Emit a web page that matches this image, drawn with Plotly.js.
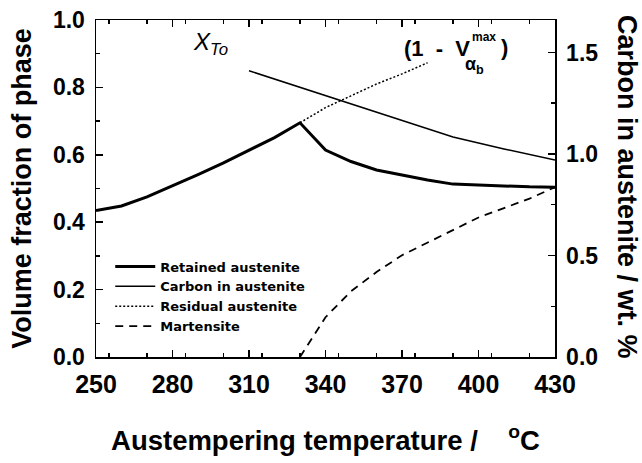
<!DOCTYPE html>
<html>
<head>
<meta charset="utf-8">
<script src="https://cdn.plot.ly/plotly-3.0.1.min.js"></script>
<style>html,body{margin:0;padding:0;background:#fff;}#chart{width:642px;height:463px;}</style>
</head>
<body>
<div id="chart"></div>
<script>
// Retained austenite (left axis)
var tempRetained = [250,260,270,280,290,300,310,320,330,340,350,360,370,380,390,400,410,420,430];
var retained = [0.435,0.448,0.475,0.507,0.541,0.576,0.613,0.651,0.695,0.614,0.58,0.555,0.54,0.525,0.513,0.51,0.507,0.505,0.504];
// Carbon in austenite (right axis, wt. %)
var tempCarbon = [310,330,350,370,390,410,430];
var carbon = [1.41,1.328,1.247,1.165,1.084,1.025,0.97];
// Residual austenite (1 - V max alpha_b)
var tempResidual = [330,340,350,360,370,380];
var residual = [0.695,0.74,0.775,0.81,0.84,0.873];
// Martensite
var tempMartensite = [330,340,350,360,370,380,390,400,410,420,430];
var martensite = [0,0.118,0.195,0.252,0.302,0.339,0.376,0.414,0.442,0.47,0.504];

var FONT = 'Liberation Sans, Arial, sans-serif';

var traces = [
  {x: tempRetained, y: retained, name: 'Retained austenite', mode: 'lines',
   line: {color: '#000', width: 3}},
  {x: tempCarbon, y: carbon, name: 'Carbon in austenite', mode: 'lines', yaxis: 'y2',
   line: {color: '#000', width: 1.5}},
  {x: tempResidual, y: residual, name: 'Residual austenite', mode: 'lines',
   line: {color: '#000', width: 1.5, dash: '2px,2px'}},
  {x: tempMartensite, y: martensite, name: 'Martensite', mode: 'lines',
   line: {color: '#000', width: 1.8, dash: '8px,6px'}}
];

var yTickFont = {family: FONT, size: 23, color: '#000', weight: 'bold'};
var xTickFont = {family: FONT, size: 25, color: '#000', weight: 'bold'};
var titleFont = {family: FONT, size: 27, color: '#000', weight: 'bold'};

var layout = {
  width: 642, height: 463,
  margin: {l: 96, r: 87, t: 20, b: 106, pad: 0},
  paper_bgcolor: '#fff', plot_bgcolor: '#fff',
  showlegend: true,
  legend: {
    x: 0.031, y: 0.313, xanchor: 'left', yanchor: 'top',
    bgcolor: 'rgba(0,0,0,0)', borderwidth: 0,
    font: {family: 'DejaVu Sans, sans-serif', size: 13, color: '#000', weight: 'bold'},
    itemwidth: 40, tracegroupgap: 0
  },
  xaxis: {
    range: [250, 430], tick0: 250, dtick: 30,
    ticks: 'inside', ticklen: 7, tickwidth: 1.5, tickcolor: '#000',
    minor: {dtick: 15, ticks: 'inside', ticklen: 4, tickwidth: 1.5, tickcolor: '#000'},
    showline: true, linecolor: '#000', linewidth: 1.5, mirror: 'ticks',
    showgrid: false, zeroline: false,
    tickfont: xTickFont, ticklabelstandoff: 4,
    title: {text: 'Austempering temperature /\u00a0\u00a0\u00a0\u00a0<sup>o</sup>C', font: {family: FONT, size: 27.5, color: '#000', weight: 'bold'}, standoff: 34}
  },
  yaxis: {
    range: [0, 1.0], tick0: 0, dtick: 0.2, tickformat: '.1f',
    ticks: 'inside', ticklen: 7, tickwidth: 1.5, tickcolor: '#000',
    minor: {dtick: 0.1, ticks: 'inside', ticklen: 4, tickwidth: 1.5, tickcolor: '#000'},
    showline: true, linecolor: '#000', linewidth: 1.5,
    showgrid: false, zeroline: false,
    tickfont: yTickFont, ticklabelstandoff: 5,
    title: {text: 'Volume fraction of phase', font: titleFont, standoff: 13}
  },
  yaxis2: {
    overlaying: 'y', side: 'right',
    range: [0, 1.66], tick0: 0, dtick: 0.5, tickformat: '.1f',
    ticks: 'inside', ticklen: 7, tickwidth: 1.5, tickcolor: '#000',
    minor: {dtick: 0.25, ticks: 'inside', ticklen: 4, tickwidth: 1.5, tickcolor: '#000'},
    showline: true, linecolor: '#000', linewidth: 1.5,
    showgrid: false, zeroline: false,
    tickfont: yTickFont, ticklabelstandoff: 5
  },
  annotations: [
    {xref: 'paper', yref: 'paper', x: 1.157, y: 0.504, xanchor: 'center', yanchor: 'middle',
     textangle: 90, text: 'Carbon in austenite / wt. %', showarrow: false,
     font: titleFont},
    {xref: 'paper', yref: 'paper', x: 0.208, y: 0.931, xanchor: 'left', yanchor: 'middle',
     text: '<i>X<sub>To</sub></i>', showarrow: false,
     font: {family: FONT, size: 24, color: '#000'}},
    {xref: 'paper', yref: 'paper', x: 0.669, y: 0.916, xanchor: 'left', yanchor: 'middle',
     text: '(1\u00a0\u00a0-\u00a0\u00a0V', showarrow: false, borderpad: 0,
     font: {family: FONT, size: 22, color: '#000', weight: 'bold'}},
    {xref: 'paper', yref: 'paper', x: 0.816, y: 0.950, xanchor: 'left', yanchor: 'middle',
     text: 'max', showarrow: false, borderpad: 0,
     font: {family: FONT, size: 12, color: '#000', weight: 'bold'}},
    {xref: 'paper', yref: 'paper', x: 0.801, y: 0.866, xanchor: 'left', yanchor: 'middle',
     text: '\u03b1<sub>b</sub>', showarrow: false, borderpad: 0,
     font: {family: FONT, size: 18, color: '#000', weight: 'bold'}},
    {xref: 'paper', yref: 'paper', x: 0.880, y: 0.917, xanchor: 'left', yanchor: 'middle',
     text: ')', showarrow: false, borderpad: 0,
     font: {family: FONT, size: 22, color: '#000', weight: 'bold'}}
  ]
};

Plotly.newPlot('chart', traces, layout, {staticPlot: true, displayModeBar: false});
</script>
</body>
</html>
